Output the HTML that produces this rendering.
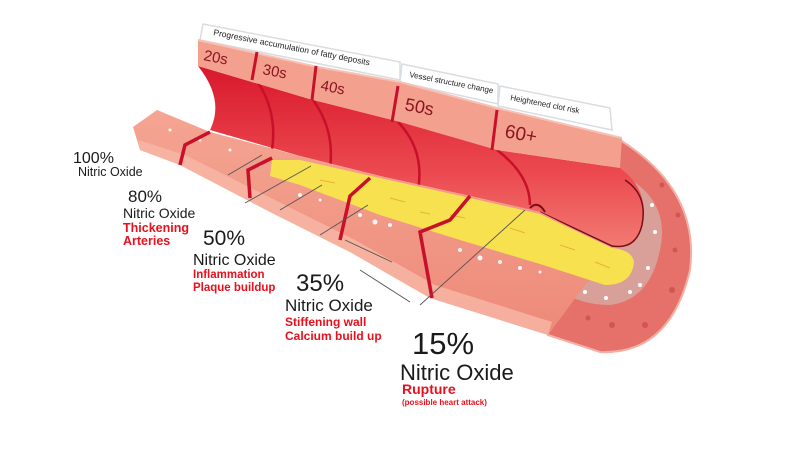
<!DOCTYPE html>
<html><head><meta charset="utf-8"><style>
html,body{margin:0;padding:0;background:#fff;}
svg{display:block;}
text{font-family:"Liberation Sans",Arial,sans-serif;}
</style></head><body>
<svg width="808" height="464" viewBox="0 0 808 464" xmlns="http://www.w3.org/2000/svg">
<defs>
<linearGradient id="lum" x1="0" y1="0" x2="0" y2="1">
<stop offset="0" stop-color="#d8182c"/><stop offset="0.6" stop-color="#ec4a50"/><stop offset="1" stop-color="#f27a72"/>
</linearGradient>
<linearGradient id="wall" x1="0" y1="0" x2="0" y2="1">
<stop offset="0" stop-color="#f4a592"/><stop offset="1" stop-color="#ee8a7a"/>
</linearGradient>
</defs>

<!-- label bands -->
<polygon points="203,24 400,62 400,80 200,40" fill="#fff" stroke="#d8dde2" stroke-width="1.5"/>
<polygon points="402,64 498,84 498,104 400,82" fill="#fff" stroke="#d8dde2" stroke-width="1.5"/>
<polygon points="500,86 610,108 612,130 498,106" fill="#fff" stroke="#d8dde2" stroke-width="1.5"/>
<text transform="translate(213,35) rotate(11)" font-size="8.5" fill="#222">Progressive accumulation of fatty deposits</text>
<text transform="translate(409,77) rotate(11)" font-size="8" fill="#222">Vessel structure change</text>
<text transform="translate(510,100) rotate(11)" font-size="8" fill="#222">Heightened clot risk</text>

<!-- end cap -->
<path d="M620,140 Q700,190 690,270 Q670,355 600,352 L548,335 Q560,250 620,140 Z" fill="#e5716a" stroke="#f2b0a4" stroke-width="2"/>
<path d="M612,170 Q672,195 660,250 Q650,300 610,305 Q580,305 560,290 L560,220 Z" fill="#d8a098"/>
<g fill="#c84a4a" opacity="0.7">
<circle cx="672" cy="290" r="3"/><circle cx="645" cy="325" r="3"/><circle cx="675" cy="250" r="2.5"/><circle cx="612" cy="325" r="3"/><circle cx="588" cy="318" r="2.5"/><circle cx="662" cy="185" r="2.5"/><circle cx="678" cy="215" r="2.5"/>
</g>
<g fill="#fff">
<circle cx="652" cy="205" r="2"/><circle cx="655" cy="232" r="2"/><circle cx="648" cy="268" r="2"/><circle cx="630" cy="292" r="2"/><circle cx="606" cy="298" r="2"/><circle cx="585" cy="292" r="2"/><circle cx="640" cy="285" r="2"/>
</g>

<!-- lumen -->
<path d="M198,66 L313,100 L400,120 L497,150 L620,168 Q650,190 642,225 Q636,250 612,246 L540,212 L470,196 L380,176 L300,156 L210,130 Q225,100 198,66 Z" fill="url(#lum)"/>
<path d="M540,212 L612,246 Q636,250 642,225 Q648,195 625,180" fill="none" stroke="#7a0c18" stroke-width="1.5"/>
<!-- curved red lines in lumen -->
<g fill="none" stroke="#c8102a" stroke-width="2.5">
<path d="M255,78 Q278,110 272,150"/>
<path d="M313,100 Q335,130 330,168"/>
<path d="M398,122 Q425,150 418,190"/>
<path d="M497,150 Q530,175 530,205"/>
</g>

<!-- tabs face -->
<polygon points="198,40 313,66 400,82 497,108 622,138 620,168 497,150 400,122 313,100 198,66" fill="#f4a08e"/>
<polyline points="198,40 313,66 400,82 497,108 622,138" fill="none" stroke="#f7c2b4" stroke-width="2"/>
<g stroke="#c8102a" stroke-width="3">
<line x1="257" y1="52" x2="252" y2="80"/>
<line x1="316" y1="66" x2="312" y2="100"/>
<line x1="398" y1="86" x2="392" y2="122"/>
<line x1="497" y1="110" x2="492" y2="150"/>
</g>
<g fill="#8a1420" font-size="15">
<text transform="translate(203,60) rotate(11)">20s</text>
<text transform="translate(262,74) rotate(11)">30s</text>
<text transform="translate(320,90) rotate(11)">40s</text>
<text transform="translate(404,110) rotate(11)" font-size="18">50s</text>
<text transform="translate(504,137) rotate(11)" font-size="19">60+</text>
</g>

<!-- lower wall body -->
<path d="M133,127 L157,110 L210,132 L300,156 L380,176 L470,196 L540,212 L612,248 L600,270 L585,285 L548,335 L430,298 L350,252 L270,212 L180,165 L140,150 Z" fill="url(#wall)"/>
<path d="M140,150 L180,165 L270,212 L350,252 L430,298 L548,335 L552,322 L435,285 L355,240 L275,200 L185,155 L138,140 Z" fill="#f7b8a6" opacity="0.8"/>
<!-- plaque -->
<path d="M272,160 L300,160 L380,178 L470,198 L540,214 L612,248 Q632,250 634,262 Q632,285 605,285 L540,264 L460,240 L380,215 L300,185 L270,176 Z" fill="#f7e14e"/>
<g stroke="#e0a030" stroke-width="1" opacity="0.7">
<line x1="320" y1="180" x2="335" y2="183"/><line x1="390" y1="198" x2="405" y2="202"/><line x1="450" y1="215" x2="465" y2="218"/><line x1="510" y1="228" x2="525" y2="233"/><line x1="560" y1="245" x2="575" y2="250"/><line x1="420" y1="212" x2="430" y2="214"/><line x1="595" y1="262" x2="610" y2="268"/>
</g>
<g fill="#fff" opacity="0.9">
<circle cx="170" cy="130" r="1.5"/><circle cx="200" cy="140" r="1.5"/><circle cx="230" cy="150" r="1.5"/><circle cx="260" cy="165" r="1.5"/>
<circle cx="300" cy="195" r="2"/><circle cx="320" cy="200" r="1.5"/><circle cx="360" cy="215" r="2"/><circle cx="375" cy="222" r="2.5"/><circle cx="390" cy="225" r="2"/>
<circle cx="460" cy="250" r="2"/><circle cx="480" cy="258" r="2.5"/><circle cx="500" cy="262" r="2"/><circle cx="520" cy="268" r="2"/><circle cx="540" cy="272" r="1.5"/>
</g>
<!-- dividers -->
<g fill="none" stroke="#c8102a" stroke-width="3.5">
<polyline points="210,132 185,145 180,165"/>
<polyline points="272,158 248,170 250,198"/>
<polyline points="370,178 350,196 340,240"/>
<polyline points="470,196 450,220 420,232 432,298"/>
</g>
<path d="M530,208 Q538,200 545,212" fill="none" stroke="#7a0c18" stroke-width="2"/>

<!-- leader lines -->
<g stroke="#555" stroke-width="0.9">
<line x1="228" y1="175" x2="262" y2="155"/>
<line x1="245" y1="203" x2="311" y2="166"/>
<line x1="280" y1="210" x2="322" y2="185"/>
<line x1="320" y1="235" x2="368" y2="205"/>
<line x1="345" y1="240" x2="392" y2="262"/>
<line x1="410" y1="302" x2="360" y2="270"/>
<line x1="420" y1="305" x2="525" y2="210"/>
</g>

<!-- labels -->
<g fill="#1a1a1a">
<text x="73" y="163" font-size="16">100%</text>
<text x="78" y="176" font-size="12.5">Nitric Oxide</text>
<text x="128" y="202" font-size="17">80%</text>
<text x="123" y="218" font-size="14">Nitric Oxide</text>
<text x="203" y="245" font-size="21">50%</text>
<text x="193" y="265" font-size="16">Nitric Oxide</text>
<text x="296" y="291" font-size="24">35%</text>
<text x="285" y="311" font-size="17">Nitric Oxide</text>
<text x="412" y="354" font-size="31">15%</text>
<text x="400" y="380" font-size="22">Nitric Oxide</text>
</g>
<g fill="#e8101c" font-weight="bold">
<text x="123" y="232" font-size="12.5">Thickening</text>
<text x="123" y="245" font-size="12.5">Arteries</text>
<text x="193" y="278" font-size="11.5">Inflammation</text>
<text x="193" y="291" font-size="11.5">Plaque buildup</text>
<text x="285" y="326" font-size="12">Stiffening wall</text>
<text x="285" y="340" font-size="12">Calcium build up</text>
<text x="402" y="394" font-size="14">Rupture</text>
<text x="402" y="405" font-size="8">(possible heart attack)</text>
</g>
</svg>
</body></html>
